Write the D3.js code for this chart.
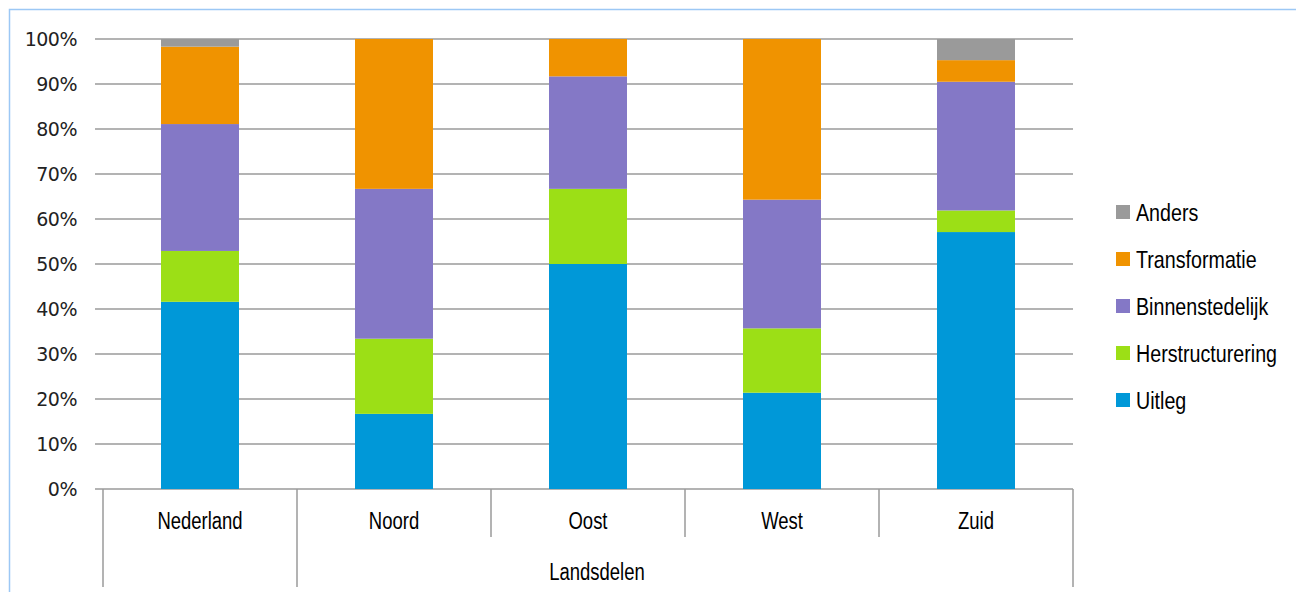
<!DOCTYPE html>
<html><head><meta charset="utf-8">
<script src="https://cdn.jsdelivr.net/npm/d3@7"></script>
<style>body{margin:0;background:#fff}svg{display:block}</style>
</head><body><svg id="c" width="1296" height="592"></svg>
<script>
const categories = ["Nederland","Noord","Oost","West","Zuid"];
const seriesNames = ["Uitleg","Herstructurering","Binnenstedelijk","Transformatie","Anders"];
const uitleg = [41.6, 16.7, 50.0, 21.4, 57.1];
const herstructurering = [11.3, 16.7, 16.7, 14.3, 4.8];
const binnenstedelijk = [28.2, 33.3, 25.0, 28.6, 28.6];
const transformatie = [17.2, 33.3, 8.3, 35.7, 4.8];
const anders = [1.7, 0, 0, 0, 4.7];
const colors = ["#0098d8","#9cdf16","#8478c6","#f09300","#9a9a9a"];
const yTicks = [0,10,20,30,40,50,60,70,80,90,100];
const groupLabel = "Landsdelen";

const svg = d3.select("#c");
const seriesVals = [uitleg, herstructurering, binnenstedelijk, transformatie, anders];
const rows = categories.map((c,i)=>{const o={cat:c}; seriesNames.forEach((s,j)=>o[s]=seriesVals[j][i]); return o;});
const stack = d3.stack().keys(seriesNames)(rows);

const x = d3.scaleBand().domain(categories).range([103,1073]).paddingInner(0).paddingOuter(0);
const y = d3.scaleLinear().domain([0,100]).range([489,39]);
const barW = 78;

// frame
svg.append("path").attr("d","M9.5,600V9.5H1296").attr("fill","none").attr("stroke","#9cc8f5").attr("stroke-width",1.5);

// gridlines
svg.append("g").selectAll("line").data(yTicks).join("line")
  .attr("x1",95).attr("x2",1073).attr("y1",d=>y(d)).attr("y2",d=>y(d))
  .attr("stroke","#9a9a9a").attr("stroke-width",1.5);

// y labels
svg.append("g").selectAll("text").data(yTicks).join("text")
  .attr("x",77).attr("y",d=>y(d)+7).attr("text-anchor","end")
  .attr("font-family","'DejaVu Sans', sans-serif").attr("font-size",19).attr("letter-spacing","-0.5")
  .attr("fill","#222").text(d=>d+"%");

// bars
svg.append("g").selectAll("g").data(stack).join("g").attr("fill",(d,i)=>colors[i])
  .selectAll("rect").data(d=>d).join("rect")
  .attr("x",d=>x(d.data.cat)+x.bandwidth()/2-barW/2)
  .attr("width",barW)
  .attr("y",d=>y(d[1])).attr("height",d=>Math.max(0,y(d[0])-y(d[1])));

// x axis dividers
const bounds = categories.map(c=>x(c)).concat([x(categories[categories.length-1])+x.bandwidth()]);
svg.append("g").selectAll("line").data(bounds).join("line")
  .attr("x1",d=>d).attr("x2",d=>d).attr("y1",489)
  .attr("y2",(d,i)=>(i===0||i===1||i===bounds.length-1)?587:537)
  .attr("stroke","#9a9a9a").attr("stroke-width",1.5);

const narrow = "'Liberation Sans', Arial, sans-serif";
svg.append("g").selectAll("text").data(categories).join("text")
  .attr("transform",d=>`translate(${x(d)+x.bandwidth()/2},529) scale(0.77,1)`).attr("text-anchor","middle")
  .attr("font-family",narrow).attr("font-size",24).attr("fill","#000").text(d=>d);

svg.append("text").attr("transform",`translate(597,580) scale(0.77,1)`).attr("text-anchor","middle")
  .attr("font-family",narrow).attr("font-size",24).attr("fill","#000").text(groupLabel);

// legend
const legOrder = seriesNames.map((s,i)=>({s,c:colors[i]})).reverse();
const lg = svg.append("g").selectAll("g").data(legOrder).join("g")
  .attr("transform",(d,i)=>`translate(1116,${212+i*47})`);
lg.append("rect").attr("x",0).attr("y",-7).attr("width",14).attr("height",14).attr("fill",d=>d.c);
lg.append("text").attr("transform",`translate(20,9) scale(0.82,1)`).attr("font-family",narrow).attr("font-size",24)
  .attr("fill","#000").text(d=>d.s);
</script></body></html>
